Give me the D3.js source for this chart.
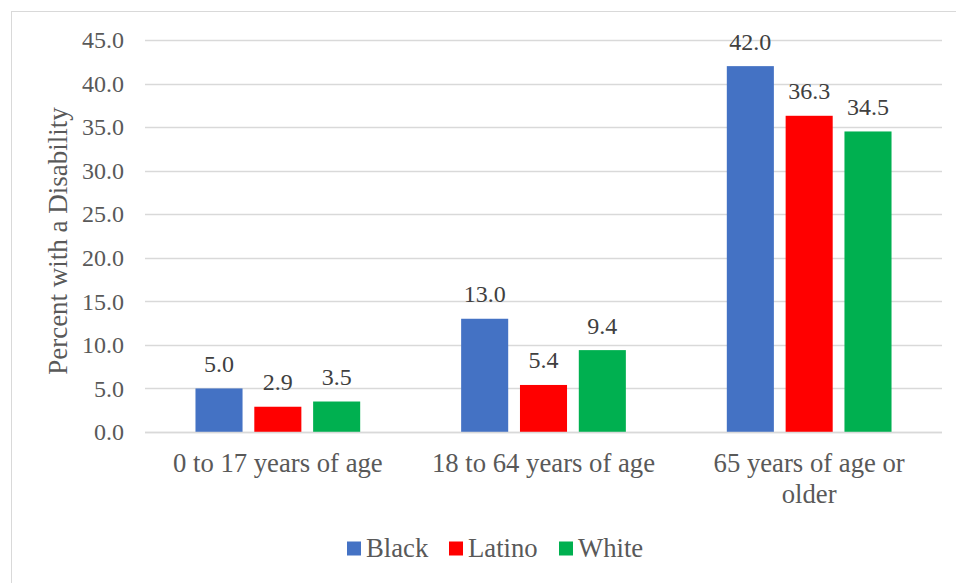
<!DOCTYPE html>
<html>
<head>
<meta charset="utf-8">
<script src="https://cdn.jsdelivr.net/npm/d3@7"></script>
<style>
  html, body { margin: 0; padding: 0; background: #fff; }
  svg { display: block; }
</style>
</head>
<body>
<svg id="chart" width="956" height="583"></svg>
<script>
// Disability rates by age group and race/ethnicity
const categories = ["0 to 17 years of age", "18 to 64 years of age", "65 years of age or older"];
const seriesNames = ["Black", "Latino", "White"];
const black = [5.0, 13.0, 42.0];
const latino = [2.9, 5.4, 36.3];
const white = [3.5, 9.4, 34.5];
const yTicks = [0, 5, 10, 15, 20, 25, 30, 35, 40, 45];
const colors = ["#4472C4", "#FF0000", "#00B050"];

const FONT = "'Liberation Serif', 'Times New Roman', serif";

const seriesValues = [black, latino, white];
const rows = categories.map((c, i) => ({
  category: c,
  values: seriesNames.map((s, j) => ({ series: s, value: seriesValues[j][i], color: colors[j] }))
}));

const svg = d3.select("#chart");
const W = 956, H = 583;
const margin = { left: 145, right: 14, top: 40, bottom: 151 };
const plotW = W - margin.left - margin.right;
const plotH = H - margin.top - margin.bottom;

// chart frame
svg.append("rect")
  .attr("x", 11.5).attr("y", 11.5)
  .attr("width", W + 10).attr("height", H + 10)
  .attr("fill", "none").attr("stroke", "#d9d9d9").attr("stroke-width", 1);

const g = svg.append("g").attr("transform", `translate(${margin.left},${margin.top})`);

const y = d3.scaleLinear().domain([0, 45]).range([plotH, 0]);
const x0 = d3.scaleBand().domain(categories).range([0, plotW]).paddingInner(0.38).paddingOuter(0.19);
const x1 = d3.scaleBand().domain(seriesNames).range([0, x0.bandwidth()]).paddingInner(0.2);

// gridlines
g.append("g")
  .selectAll("line")
  .data(yTicks)
  .join("line")
  .attr("x1", 0).attr("x2", plotW)
  .attr("y1", d => Math.round(y(d)) + 0.5).attr("y2", d => Math.round(y(d)) + 0.5)
  .attr("stroke", "#d9d9d9").attr("stroke-width", 1.3);

// y axis labels
const yAxis = g.append("g")
  .call(d3.axisLeft(y).tickValues(yTicks).tickFormat(d3.format(".1f")).tickSize(0).tickPadding(21));
yAxis.select(".domain").remove();
yAxis.selectAll("text")
  .style("font-family", FONT)
  .attr("font-size", 24).attr("fill", "#595959");

// y axis title
svg.append("text")
  .attr("transform", `translate(67,241) rotate(-90)`)
  .attr("text-anchor", "middle")
  .style("font-family", FONT)
  .attr("font-size", 27).attr("fill", "#595959")
  .text("Percent with a Disability");

// bars
const groups = g.append("g")
  .selectAll("g")
  .data(rows)
  .join("g")
  .attr("transform", d => `translate(${x0(d.category)},0)`);

groups.selectAll("rect")
  .data(d => d.values)
  .join("rect")
  .attr("x", d => x1(d.series))
  .attr("y", d => y(d.value))
  .attr("width", x1.bandwidth())
  .attr("height", d => plotH - y(d.value))
  .attr("fill", d => d.color);

groups.selectAll("text.val")
  .data(d => d.values)
  .join("text")
  .attr("class", "val")
  .attr("x", d => x1(d.series) + x1.bandwidth() / 2)
  .attr("y", d => y(d.value) - 16.5)
  .attr("text-anchor", "middle")
  .style("font-family", FONT)
  .attr("font-size", 24).attr("fill", "#404040")
  .text(d => d3.format(".1f")(d.value));

// x axis baseline
g.append("line")
  .attr("x1", 0).attr("x2", plotW)
  .attr("y1", plotH + 0.5).attr("y2", plotH + 0.5)
  .attr("stroke", "#d9d9d9").attr("stroke-width", 1.3);

// category labels, wrapped to the category width
const labelLines = {
  "0 to 17 years of age": ["0 to 17 years of age"],
  "18 to 64 years of age": ["18 to 64 years of age"],
  "65 years of age or older": ["65 years of age or", "older"]
};
const catLabels = g.append("g")
  .selectAll("text")
  .data(categories)
  .join("text")
  .attr("x", d => x0(d) + x0.bandwidth() / 2)
  .attr("y", plotH + 40)
  .attr("text-anchor", "middle")
  .style("font-family", FONT)
  .attr("font-size", 26.7).attr("fill", "#595959");
catLabels.selectAll("tspan")
  .data(d => labelLines[d].map((t, i) => ({ t, i, x: x0(d) + x0.bandwidth() / 2 })))
  .join("tspan")
  .attr("x", d => d.x)
  .attr("dy", d => d.i === 0 ? 0 : 31)
  .text(d => d.t);

// legend
const legendItems = seriesNames.map((s, i) => ({ name: s, color: colors[i] }));
const legend = svg.append("g").attr("transform", "translate(0,548)");
const itemX = [347, 449, 559];
const li = legend.selectAll("g")
  .data(legendItems)
  .join("g")
  .attr("transform", (d, i) => `translate(${itemX[i]},0)`);
li.append("rect")
  .attr("x", 0).attr("y", -6.5).attr("width", 14).attr("height", 14)
  .attr("fill", d => d.color);
li.append("text")
  .attr("x", 19).attr("y", 9)
  .style("font-family", FONT)
  .attr("font-size", 26.7).attr("fill", "#595959")
  .text(d => d.name);
</script>
</body>
</html>
